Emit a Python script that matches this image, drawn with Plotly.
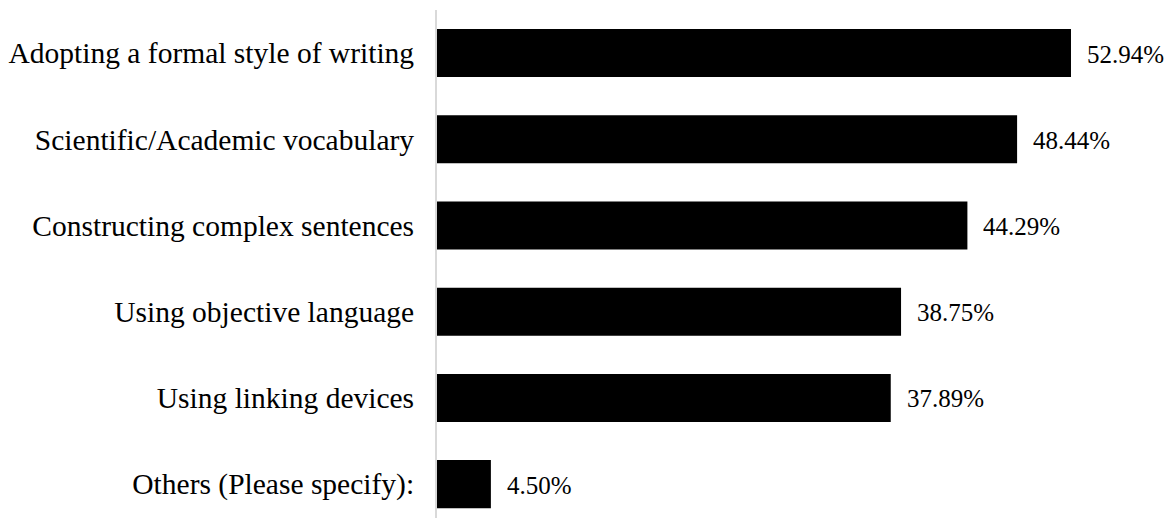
import plotly.graph_objects as go

categories = [
    "Adopting a formal style of writing",
    "Scientific/Academic vocabulary",
    "Constructing complex sentences",
    "Using objective language",
    "Using linking devices",
    "Others (Please specify):",
]
values = [52.94, 48.44, 44.29, 38.75, 37.89, 4.50]

FONT = "Liberation Serif, Times New Roman, serif"
idx = list(range(len(categories)))

fig = go.Figure(
    go.Bar(
        x=values,
        y=idx,
        orientation="h",
        marker=dict(color="#000000", line=dict(width=0)),
        width=0.557,
        hoverinfo="skip",
    )
)

for i, v in zip(idx, values):
    fig.add_annotation(
        x=v, y=i, xref="x", yref="y",
        text=f"{v:.2f}%", showarrow=False,
        xanchor="left", yanchor="middle", xshift=14, yshift=-1,
        font=dict(family=FONT, size=25, color="#000000"),
    )

fig.update_layout(
    width=1174, height=518,
    margin=dict(l=429, r=0, t=2, b=8, autoexpand=False),
    paper_bgcolor="white", plot_bgcolor="white",
    showlegend=False,
    font=dict(family=FONT, size=25, color="#000000"),
)
fig.update_xaxes(
    range=[0, 62.21], showgrid=False, zeroline=False,
    showticklabels=False, showline=False, ticks="",
)
fig.update_yaxes(
    tickvals=idx, ticktext=categories,
    range=[5.393, -0.5], showgrid=False, zeroline=False,
    showline=True, linecolor="#d9d9d9", linewidth=2,
    ticks="", ticklabelstandoff=15,
    tickfont=dict(family=FONT, size=29.5, color="#000000"),
    automargin=False,
)

fig.write_html("out.html")
